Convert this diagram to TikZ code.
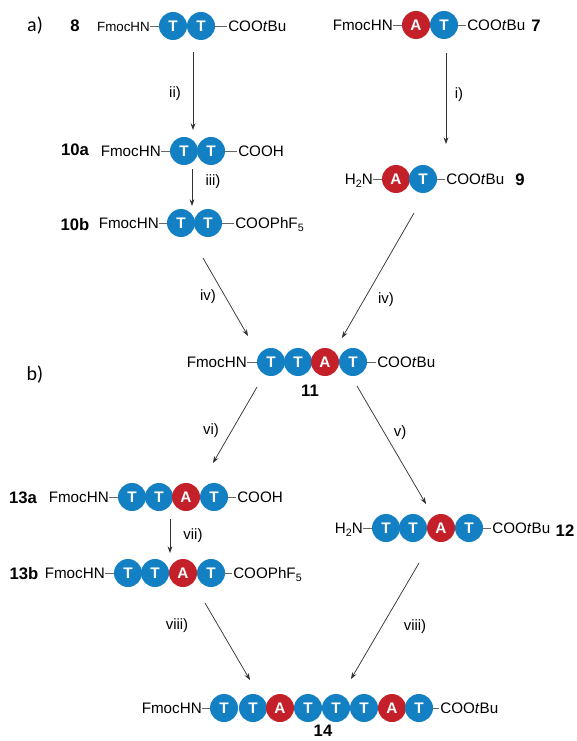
\documentclass[tikz,border=0pt]{standalone}
\usepackage{fontspec}
\setmainfont{Liberation Sans}
\newfontfamily\calfont{Carlito}
\usetikzlibrary{arrows.meta}
\definecolor{beadT}{HTML}{1480C4}
\definecolor{beadA}{HTML}{C4202A}
\newcommand{\subn}[1]{\raisebox{-2.2pt}{\fontsize{8}{9}\selectfont #1}}
\tikzset{
 x=0.75pt,y=-0.75pt,
 tb/.style={circle,fill=beadT,minimum size=21pt,inner sep=0pt,text=white,font=\fontsize{11.5}{13}\selectfont\bfseries},
 ab/.style={circle,fill=beadA,minimum size=21pt,inner sep=0pt,text=white,font=\fontsize{11.5}{13}\selectfont\bfseries},
 endl/.style={inner sep=0pt,anchor=base east,font=\fontsize{11.4}{13}\selectfont},
 endls/.style={inner sep=0pt,anchor=base east,font=\fontsize{10}{12}\selectfont},
 endr/.style={inner sep=0pt,anchor=base west,font=\fontsize{11.4}{13}\selectfont},
 bond/.style={draw=black!60,line width=0.6pt},
 lab/.style={inner sep=0pt,font=\fontsize{11.2}{13}\selectfont},
 cpd/.style={inner sep=0pt,font=\fontsize{12.5}{14}\selectfont\bfseries},
 part/.style={inner sep=0pt,font=\fontsize{15}{18}\calfont},
 rxn/.style={draw=black!80,line width=0.55pt,-{Stealth[length=5pt,width=3.6pt]}},
}
% name, y, left right-edge x, left text, left style, beads, right x, right text
\newcommand{\chainrow}[8]{%
  \node[#5] (#1L) at (#3,#2+5.5) {#4};
  \node[endr] (#1R) at (#7,#2+5.5) {#8};
  \coordinate (#1Lb) at (#3,#2);
  \coordinate (#1Rb) at (#7-1,#2);
  \foreach \bx/\bs/\bt [count=\bi] in {#6} {
    \node[\bs] (#1b\bi) at (\bx,#2) {\bt};
    \xdef\lastbi{\bi}
  }
  \path[bond] (#1Lb) -- (#1b1);
  \path[bond] (#1b\lastbi) -- (#1Rb);
}
\begin{document}
\begin{tikzpicture}
\useasboundingbox (0,0) rectangle (577,741);
\node[part] (pa) at (35,26) {a)};
\node[part] (pb) at (35,375) {b)};

\chainrow{c8}{26}{150}{FmocHN}{endls}{173/tb/T,201/tb/T}{228}{COO\textit{t}Bu}
\chainrow{c10a}{151}{161}{FmocHN}{endl}{184/tb/T,211/tb/T}{238}{COOH}
\chainrow{c10b}{223}{159}{FmocHN}{endl}{181/tb/T,208/tb/T}{235}{COOPhF\subn{5}}
\chainrow{c7}{25}{393}{FmocHN}{endl}{416/ab/A,444/tb/T}{467}{COO\textit{t}Bu}
\chainrow{c9}{179}{373}{H\subn{2}N}{endl}{396/ab/A,423/tb/T}{446}{COO\textit{t}Bu}
\chainrow{c11}{362}{247}{FmocHN}{endl}{271/tb/T,298/tb/T,325/ab/A,353/tb/T}{377}{COO\textit{t}Bu}
\chainrow{c13a}{497}{109}{FmocHN}{endl}{132/tb/T,159/tb/T,186/ab/A,214/tb/T}{237}{COOH}
\chainrow{c13b}{573}{105}{FmocHN}{endl}{128/tb/T,155/tb/T,183/ab/A,211/tb/T}{233}{COOPhF\subn{5}}
\chainrow{c12}{528}{363}{H\subn{2}N}{endl}{386/tb/T,413/tb/T,441/ab/A,469/tb/T}{492}{COO\textit{t}Bu}
\chainrow{c14}{708}{202}{FmocHN}{endl}{224/tb/T,253/tb/T,280/ab/A,308/tb/T,336/tb/T,364/tb/T,392/ab/A,419/tb/T}{440}{COO\textit{t}Bu}

\node[cpd] (n8) at (75,26) {8};
\node[cpd] (n7) at (536,26) {7};
\node[cpd] (n10a) at (75,150) {10a};
\node[cpd] (n10b) at (75,225) {10b};
\node[cpd] (n9) at (520,180) {9};
\node[cpd] (n11) at (310,391) {11};
\node[cpd] (n13a) at (23,498) {13a};
\node[cpd] (n13b) at (24,574) {13b};
\node[cpd] (n12) at (565,531) {12};
\node[cpd] (n14) at (323,731) {14};

\coordinate (a1s) at (193,52); \coordinate (a1e) at (193,130);
\coordinate (a2s) at (192,169); \coordinate (a2e) at (192,206);
\coordinate (a3s) at (446,53); \coordinate (a3e) at (446,144);
\coordinate (a4s) at (414,213); \coordinate (a4e) at (342,338);
\coordinate (a5s) at (203,258); \coordinate (a5e) at (248,336);
\coordinate (a6s) at (257,387); \coordinate (a6e) at (213,463);
\coordinate (a7s) at (357,386); \coordinate (a7e) at (426,504);
\coordinate (a8s) at (170,519); \coordinate (a8e) at (170,553);
\coordinate (a9s) at (205,603); \coordinate (a9e) at (250,680);
\coordinate (a10s) at (419,563); \coordinate (a10e) at (351,679);
\foreach \k in {1,...,10} { \draw[rxn] (a\k s) -- (a\k e); }

\node[lab] (l1) at (175,94) {ii)};
\node[lab] (l2) at (213,182) {iii)};
\node[lab] (l3) at (459,95) {i)};
\node[lab] (l4) at (386,300) {iv)};
\node[lab] (l5) at (208,297) {iv)};
\node[lab] (l6) at (211,431) {vi)};
\node[lab] (l7) at (400,433) {v)};
\node[lab] (l8) at (193,536) {vii)};
\node[lab] (l9) at (177,626) {viii)};
\node[lab] (l10) at (415,627) {viii)};
\end{tikzpicture}
\end{document}
